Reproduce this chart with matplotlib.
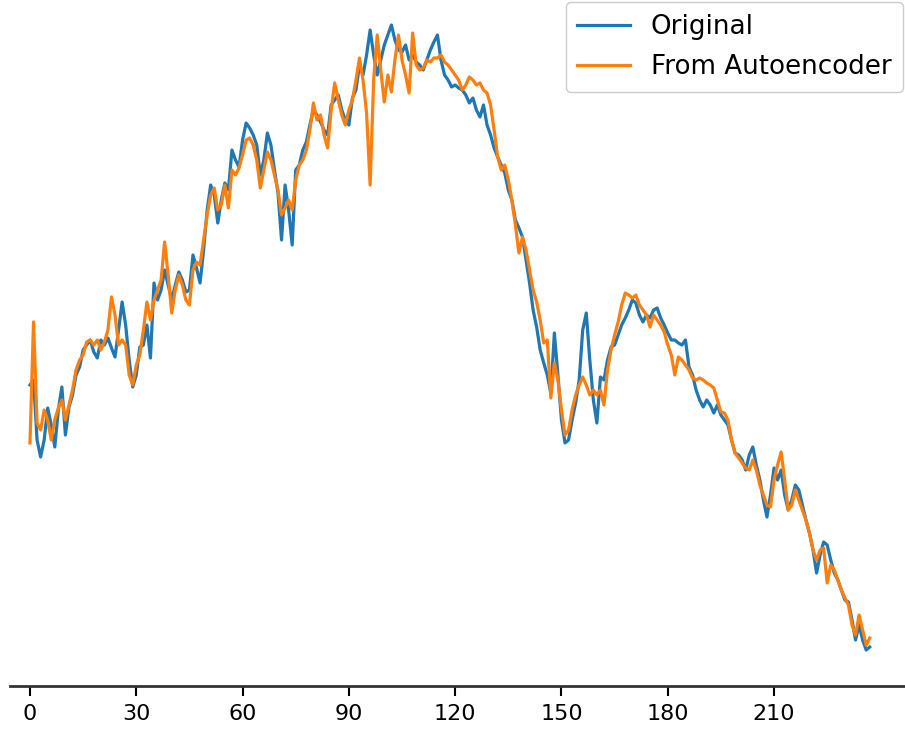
import numpy as np
import matplotlib
matplotlib.use("Agg")
import matplotlib.pyplot as plt

# values (arbitrary units, no y axis shown)
original = [
    315, 320, 260, 243, 260, 292, 275, 253, 290, 313,
    265, 293, 305, 325, 333, 350, 355, 360, 348, 342,
    360, 355, 362, 352, 343, 370, 398, 375, 340, 313,
    325, 353, 355, 375, 342, 417, 400, 410, 430, 415,
    400, 415, 428, 420, 408, 410, 445, 432, 417, 450,
    490, 515, 505, 477, 500, 517, 510, 550, 540, 533,
    560, 577, 572, 565, 555, 525, 540, 567, 555, 530,
    507, 460, 515, 490, 455, 530, 535, 550, 558, 575,
    590, 585, 578, 570, 565, 595, 600, 605, 590, 580,
    575, 602, 610, 635, 625, 645, 670, 645, 625, 640,
    655, 665, 675, 660, 650, 648, 655, 640, 645, 638,
    635, 630, 640, 650, 658, 665, 640, 625, 620, 613,
    615, 612, 610, 605, 597, 602, 590, 583, 595, 575,
    565, 552, 543, 535, 527, 510, 500, 480, 472, 463,
    440, 417, 390, 373, 350, 337, 325, 307, 367, 325,
    280, 257, 260, 280, 297, 320, 370, 387, 340, 300,
    277, 323, 320, 340, 353, 355, 365, 375, 382, 390,
    400, 397, 385, 378, 385, 382, 390, 392, 382, 375,
    367, 360, 360, 357, 355, 360, 333, 325, 310, 300,
    293, 300, 295, 287, 295, 285, 280, 275, 260, 247,
    245, 240, 230, 245, 253, 235, 220, 200, 183, 205,
    232, 220, 230, 205, 190, 200, 215, 210, 195, 180,
    167, 150, 127, 145, 158, 155, 140, 127, 120, 110,
    100, 98, 80, 60, 75, 60, 50, 53,
]

autoencoder = [
    257, 378, 277, 270, 290, 280, 260, 280, 292, 300,
    280, 295, 310, 330, 340, 345, 358, 360, 355, 360,
    350, 358, 370, 403, 385, 355, 360, 355, 325, 315,
    335, 345, 370, 398, 380, 400, 410, 420, 458, 425,
    387, 410, 425, 415, 400, 395, 430, 438, 435, 460,
    485, 505, 512, 490, 495, 515, 492, 530, 525, 532,
    545, 560, 562, 555, 540, 512, 530, 548, 540, 525,
    510, 485, 492, 500, 490, 520, 535, 540, 550, 570,
    597, 580, 585, 565, 552, 590, 617, 600, 585, 575,
    590, 600, 620, 642, 620, 587, 515, 620, 665, 630,
    598, 625, 608, 640, 665, 640, 625, 607, 667, 635,
    630, 632, 640, 638, 642, 642, 645, 638, 635, 630,
    625, 620, 610, 615, 623, 620, 615, 617, 610, 607,
    595, 570, 543, 530, 535, 520, 500, 475, 447, 463,
    450, 430, 410, 398, 380, 357, 360, 302, 337, 320,
    290, 265, 270, 290, 305, 315, 323, 315, 305, 310,
    305, 310, 295, 330, 350, 365, 378, 395, 407, 405,
    402, 405, 395, 390, 385, 373, 385, 380, 375, 368,
    355, 345, 325, 343, 340, 335, 330, 322, 320, 322,
    320, 317, 315, 312, 300, 288, 287, 280, 260, 247,
    242, 237, 232, 230, 240, 230, 215, 205, 195, 193,
    220, 235, 248, 220, 190, 195, 210, 200, 190, 180,
    167, 150, 140, 150, 152, 117, 135, 130, 120, 110,
    102, 95, 75, 65, 85, 70, 55, 62,
]

xticks = [0, 30, 60, 90, 120, 150, 180, 210]

steps = np.arange(len(original))

fig = plt.figure(figsize=(9.05, 7.34), dpi=100)
ax = fig.add_axes([10 / 905, 48 / 734, 895 / 905, 686 / 734])

ax.plot(steps, original, color='#1f77b4', linewidth=2.3, label='Original')
ax.plot(steps, autoencoder, color='#ff7f0e', linewidth=2.3, label='From Autoencoder')

ax.set_xlim(-5.64, 246.96)
ax.set_ylim(14, 700)
ax.set_xticks(xticks)
ax.set_yticks([])
ax.tick_params(axis='x', labelsize=16, length=7, width=1.5, pad=6)
for spine in ['top', 'right', 'left']:
    ax.spines[spine].set_visible(False)
ax.spines['bottom'].set_linewidth(2)
ax.spines['bottom'].set_color('#333333')

ax.legend(loc='upper right', bbox_to_anchor=(903 / 905, 732 / 734),
          bbox_transform=fig.transFigure, fontsize=18.8,
          handlelength=2.0, handletextpad=0.8, labelspacing=0.55,
          borderpad=0.45, borderaxespad=0, framealpha=1.0)

fig.savefig('out.png', dpi=100)
